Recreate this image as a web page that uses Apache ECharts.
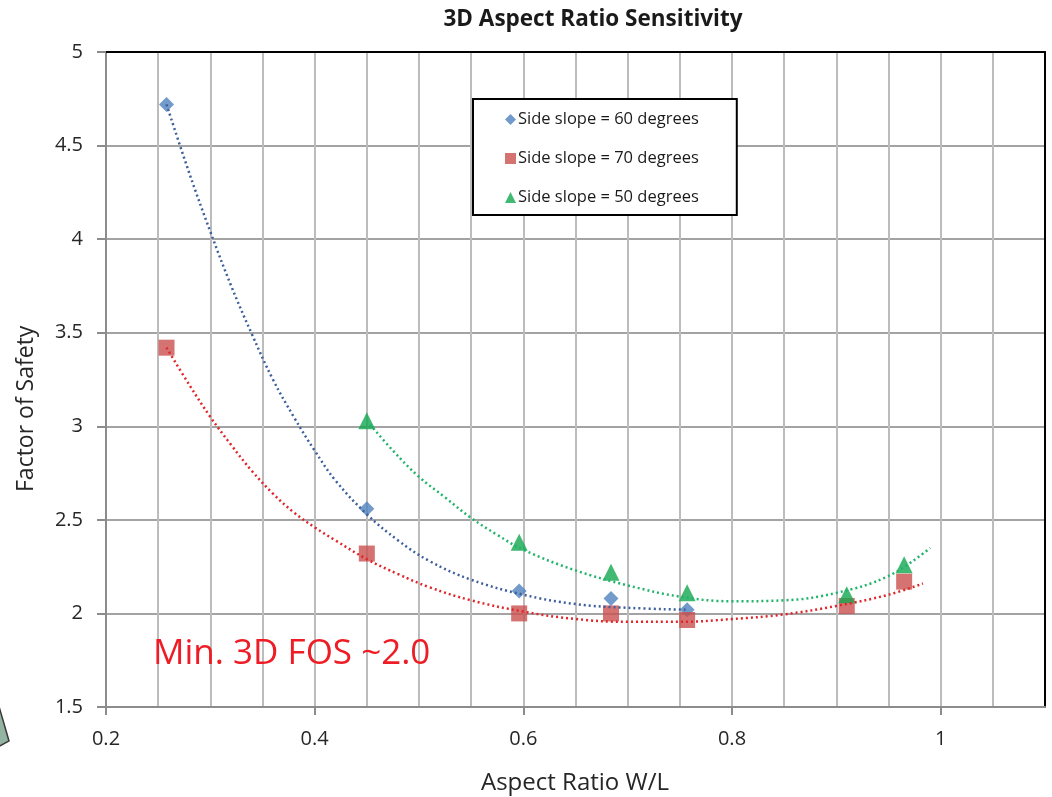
<!DOCTYPE html>
<html>
<head>
<meta charset="utf-8">
<script src="https://cdn.jsdelivr.net/npm/echarts@6/dist/echarts.min.js"></script>
<style>
html,body{margin:0;padding:0;background:#fff;}
#chart{width:1052px;height:797px;}
</style>
</head>
<body>
<div id="chart"></div>
<script>
// ---- data ----
const titleText = '3D Aspect Ratio Sensitivity';
const xAxisName = 'Aspect Ratio W/L';
const yAxisName = 'Factor of Safety';
const noteText = 'Min. 3D FOS ~2.0';
const xTickValues = [0.2, 0.4, 0.6, 0.8, 1.0];
const seriesNames = ['Side slope = 60 degrees', 'Side slope = 70 degrees', 'Side slope = 50 degrees'];

const slope60X = [0.258, 0.45, 0.596, 0.684, 0.757];
const slope60Y = [4.72, 2.56, 2.12, 2.08, 2.02];
const slope70X = [0.258, 0.45, 0.596, 0.684, 0.757, 0.91, 0.965];
const slope70Y = [3.42, 2.32, 2.00, 2.00, 1.965, 2.04, 2.17];
const slope50X = [0.45, 0.596, 0.684, 0.757, 0.91, 0.965];
const slope50Y = [3.03, 2.38, 2.22, 2.11, 2.10, 2.26];

// dotted trendlines
const trend60X = [0.258, 0.28, 0.30, 0.32, 0.34, 0.36, 0.38, 0.40, 0.42, 0.45, 0.48, 0.51, 0.55, 0.60, 0.65, 0.70, 0.757];
const trend60Y = [4.72, 4.35, 4.04, 3.75, 3.49, 3.25, 3.05, 2.87, 2.71, 2.53, 2.39, 2.28, 2.18, 2.10, 2.05, 2.03, 2.02];
const trend70X = [0.258, 0.28, 0.30, 0.32, 0.34, 0.36, 0.38, 0.40, 0.42, 0.45, 0.48, 0.51, 0.55, 0.60, 0.65, 0.70, 0.75, 0.80, 0.85, 0.90, 0.95, 0.983];
const trend70Y = [3.42, 3.22, 3.05, 2.90, 2.76, 2.64, 2.54, 2.46, 2.39, 2.29, 2.21, 2.14, 2.07, 2.01, 1.97, 1.955, 1.955, 1.97, 1.995, 2.04, 2.10, 2.16];
const trend50X = [0.45, 0.475, 0.50, 0.525, 0.55, 0.575, 0.60, 0.65, 0.70, 0.75, 0.80, 0.85, 0.90, 0.95, 0.99];
const trend50Y = [3.03, 2.87, 2.73, 2.62, 2.51, 2.42, 2.34, 2.23, 2.15, 2.09, 2.065, 2.07, 2.11, 2.20, 2.35];

const pair = (xs, ys) => xs.map((x, i) => [x, ys[i]]);

const FONT = '"Open Sans", "Noto Sans", sans-serif';
const chart = echarts.init(document.getElementById('chart'), null, {renderer: 'canvas'});

const option = {
  backgroundColor: '#ffffff',
  animation: false,
  grid: {left: 106, top: 52, right: 7, bottom: 90, containLabel: false},
  legend: {
    orient: 'vertical',
    left: 473, top: 99,
    padding: [12, 38, 9, 32],
    itemGap: 22,
    itemWidth: 11, itemHeight: 11,
    borderColor: '#000', borderWidth: 2,
    backgroundColor: '#fff',
    textStyle: {fontFamily: FONT, fontSize: 16.5, lineHeight: 17, color: '#1a1a1a', padding: [0, 0, 0, -3]},
    data: [
      {name: seriesNames[0], icon: 'diamond'},
      {name: seriesNames[1], icon: 'rect'},
      {name: seriesNames[2], icon: 'triangle'}
    ]
  },
  xAxis: [{
    type: 'value', min: 0.2, max: 1.1, interval: 0.2,
    position: 'bottom',
    axisLine: {show: true, lineStyle: {color: '#8c8c8c', width: 2}},
    axisTick: {show: true, customValues: xTickValues, length: 8, inside: false, lineStyle: {color: '#8c8c8c', width: 2}},
    axisLabel: {show: true, customValues: xTickValues, margin: 22, fontFamily: FONT, fontSize: 20, color: '#262626',
      formatter: v => String(Math.round(v * 10) / 10)},
    splitLine: {show: false}
  }, {
    type: 'value', min: 0.2, max: 1.1, interval: 0.05, position: 'top',
    axisLine: {show: true, lineStyle: {color: '#000', width: 2}},
    axisTick: {show: false}, axisLabel: {show: false},
    splitLine: {show: true, lineStyle: {color: '#bcbcbc', width: 2}}
  }],
  yAxis: [{
    type: 'value', min: 1.5, max: 5, interval: 0.5,
    position: 'left',
    axisLine: {show: true, lineStyle: {color: '#8c8c8c', width: 2}},
    axisTick: {show: true, length: 9, lineStyle: {color: '#8c8c8c', width: 2}},
    axisLabel: {margin: 23, fontFamily: FONT, fontSize: 20, color: '#262626'},
    splitLine: {show: true, lineStyle: {color: '#a3a3a3', width: 2}}
  }, {
    type: 'value', min: 1.5, max: 5, position: 'right',
    axisLine: {show: true, lineStyle: {color: '#000', width: 2}},
    axisTick: {show: false}, axisLabel: {show: false}, splitLine: {show: false}
  }],
  graphic: [
    {type: 'text', x: 593, y: 20, z: 10,
      style: {text: titleText, fontFamily: FONT, fontSize: 22.5, fontWeight: 'bold', fill: '#1a1a1a', align: 'center', verticalAlign: 'middle'}},
    {type: 'text', x: 575, y: 783, z: 10,
      style: {text: xAxisName, fontFamily: FONT, fontSize: 24, fill: '#262626', align: 'center', verticalAlign: 'middle'}},
    {type: 'text', x: 15, y: 492, rotation: Math.PI / 2, z: 10,
      style: {text: yAxisName, fontFamily: FONT, fontSize: 23, fill: '#262626'}},
    {type: 'text', x: 153, y: 654, z: 10,
      style: {text: noteText, fontFamily: FONT, fontSize: 35, fill: '#ee1c25', verticalAlign: 'middle'}},
    {type: 'polygon', z: 10, shape: {points: [[-2, 703], [9, 741], [-2, 747]]},
      style: {fill: '#94b4a2', stroke: '#3a3a3a', lineWidth: 1.5}}
  ],
  series: [
    {name: seriesNames[0], type: 'scatter', data: pair(slope60X, slope60Y), symbol: 'diamond', symbolSize: 15,
      itemStyle: {color: '#4f81bd'}, z: 3},
    {name: seriesNames[1], type: 'scatter', data: pair(slope70X, slope70Y), symbol: 'rect', symbolSize: 16,
      itemStyle: {color: '#c9504d'}, z: 4},
    {name: seriesNames[2], type: 'scatter', data: pair(slope50X, slope50Y), symbol: 'triangle', symbolSize: 17,
      itemStyle: {color: '#13a84f'}, z: 5},
    {name: 'trend60', type: 'line', data: pair(trend60X, trend60Y), smooth: 0.4, showSymbol: false, symbol: 'none',
      lineStyle: {color: '#3d5f9c', width: 2.5, type: [2, 3]}, z: 6, silent: true},
    {name: 'trend70', type: 'line', data: pair(trend70X, trend70Y), smooth: 0.4, showSymbol: false, symbol: 'none',
      lineStyle: {color: '#e0262a', width: 2.5, type: [2, 3]}, z: 6, silent: true},
    {name: 'trend50', type: 'line', data: pair(trend50X, trend50Y), smooth: 0.4, showSymbol: false, symbol: 'none',
      lineStyle: {color: '#1fb46a', width: 2.5, type: [2, 3]}, z: 6, silent: true}
  ]
};
chart.setOption(option);
</script>
</body>
</html>
